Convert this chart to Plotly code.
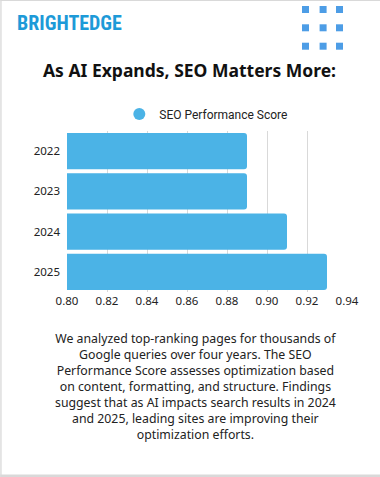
import plotly.graph_objects as go

years = ["2022", "2023", "2024", "2025"]
scores = [0.89, 0.89, 0.91, 0.93]
x_ticks = [0.80, 0.82, 0.84, 0.86, 0.88, 0.90, 0.92, 0.94]
series_name = "SEO Performance Score"
title_text = "As AI Expands, SEO Matters More:"
brand = "BRIGHTEDGE"
body_lines = [
    "We analyzed top-ranking pages for thousands of",
    "Google queries over four years. The SEO",
    "Performance Score assesses optimization based",
    "on content, formatting, and structure. Findings",
    "suggest that as AI impacts search results in 2024",
    "and 2025, leading sites are improving their",
    "optimization efforts.",
]

W, H = 380, 477
BAR = "#4bb3e6"
font_main = "Noto Sans"

L, R, T, B = 66.7, 33.3, 131, 185
PW, PH = W - L - R, H - T - B


def px(x):
    return (x - L) / PW


def py(y):
    return (H - B - y) / PH


fig = go.Figure()
fig.add_trace(go.Bar(
    x=scores, y=years, orientation="h",
    marker=dict(color=BAR, cornerradius=3, line=dict(width=0)),
    showlegend=False, name=series_name,
))
fig.add_trace(go.Scatter(
    x=[None], y=[None], mode="markers", name=series_name,
    marker=dict(symbol="circle", size=12, color=BAR),
))

shapes = []
BORDER = "#d9d9d9"
# hide grid line at the right edge of the plot
shapes.append(dict(type="line", xref="paper", yref="paper", x0=1, x1=1, y0=0, y1=1,
                   line=dict(color="white", width=3), layer="between"))
# page border (top, left, bottom)
shapes.append(dict(type="rect", xref="paper", yref="paper", x0=px(0), x1=px(W), y0=py(1), y1=py(0),
                   fillcolor=BORDER, line=dict(width=0), layer="above"))
shapes.append(dict(type="rect", xref="paper", yref="paper", x0=px(0), x1=px(1.3), y0=py(H), y1=py(0),
                   fillcolor=BORDER, line=dict(width=0), layer="above"))
shapes.append(dict(type="rect", xref="paper", yref="paper", x0=px(0), x1=px(W), y0=py(H), y1=py(474.5),
                   fillcolor=BORDER, line=dict(width=0), layer="above"))
# decorative dots
for cx in [301.7, 319.3, 335.7]:
    for cy in [6, 24.3, 42.7]:
        shapes.append(dict(type="rect", xref="paper", yref="paper",
                           x0=px(cx), x1=px(cx + 7), y0=py(cy + 7), y1=py(cy),
                           fillcolor="#4d9de6", line=dict(width=0), layer="above"))

annotations = [
    dict(text="<b>" + brand + "</b>", xref="paper", yref="paper",
         x=px(15), y=py(23), xanchor="left", yanchor="middle",
         showarrow=False, font=dict(family="Liberation Sans Narrow, Roboto Condensed, Roboto", size=20, color="#1d9ad8")),
    dict(text="<b>" + title_text + "</b>", xref="paper", yref="paper",
         x=px(189), y=py(70), xanchor="center", yanchor="middle",
         showarrow=False, font=dict(family=font_main, size=17.5, color="#111111")),
    dict(text="<br>".join(body_lines), xref="paper", yref="paper",
         x=px(195), y=py(386), xanchor="center", yanchor="middle",
         align="center", showarrow=False,
         font=dict(family=font_main, size=12.3, color="#222222")),
]

fig.update_layout(
    width=W, height=H,
    margin=dict(l=L, r=R, t=T, b=B, pad=0, autoexpand=False),
    paper_bgcolor="white", plot_bgcolor="white",
    bargap=0.1,
    font=dict(family=font_main, color="#222222"),
    legend=dict(orientation="h", x=px(206), xanchor="center",
                y=py(114), yanchor="middle",
                font=dict(family="Roboto", size=12, color="#222222"), itemwidth=30),
    shapes=shapes,
    annotations=annotations,
    xaxis=dict(range=[0.80, 0.94], tickvals=x_ticks, tickformat=".2f",
               showgrid=True, gridcolor="#d9d9d9", gridwidth=1,
               zeroline=False, showline=False, ticks="",
               tickfont=dict(size=11.5, color="#222222")),
    yaxis=dict(autorange="reversed", showgrid=False, ticks="", ticklen=0,
               tickfont=dict(size=11.5, color="#222222"), ticksuffix="  "),
)

fig.write_html("out.html", config={"displayModeBar": False},
               post_script="document.body.style.margin='0';document.body.style.overflow='hidden';")
